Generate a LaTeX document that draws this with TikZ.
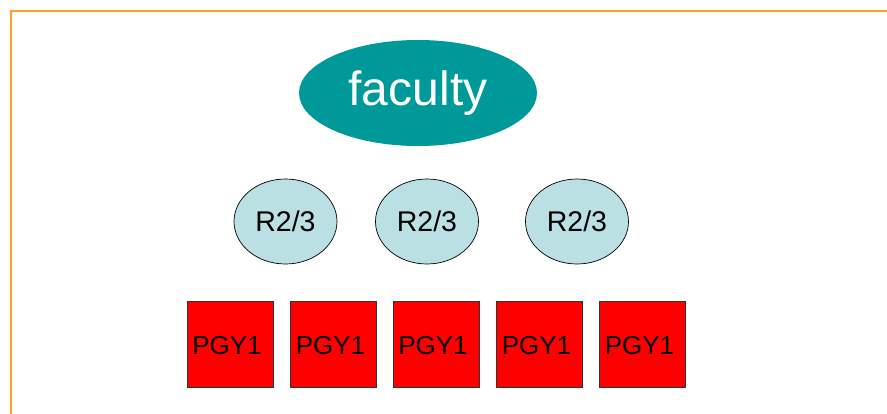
\documentclass[tikz,border=0pt]{standalone}
\usepackage{fontspec}
\setmainfont{Liberation Sans}
\usetikzlibrary{shapes.geometric}
\definecolor{teal0}{HTML}{009999}
\definecolor{lblue}{HTML}{BBE0E3}
\definecolor{frameor}{HTML}{FFA020}
\tikzset{
  fac/.style={ellipse, fill=teal0, text=white, minimum width=238pt, minimum height=106pt, inner sep=0pt, font=\fontsize{48}{52}\selectfont},
  res/.style={ellipse, draw=black, line width=0.7pt, fill=lblue, minimum width=103pt, minimum height=85pt, inner sep=0pt, font=\fontsize{28.5}{32}\selectfont},
  pgy/.style={rectangle, draw=black!80, line width=0.8pt, fill=red, minimum width=86pt, minimum height=86pt, inner sep=0pt},
  pgytext/.style={inner sep=0pt, font=\fontsize{26}{29}\selectfont},
  frameline/.style={draw=frameor, line width=2pt}
}
\begin{document}
\begin{tikzpicture}[x=1pt,y=-1pt]
\useasboundingbox (0,0) rectangle (887,414);
\coordinate (fa) at (11,414);
\coordinate (fb) at (11,11);
\coordinate (fc) at (887,11);
\draw[frameline] (fa) -- (fb) -- (fc);
\node[fac] (faculty) at (418,93) {faculty};
\node[res] (r1) at (285.5,221.5) {R2/3};
\node[res] (r2) at (427,221.5) {R2/3};
\node[res] (r3) at (577,221.5) {R2/3};
\node[pgy] (p1) at (230,344) {};
\node[pgy] (p2) at (333.5,344) {};
\node[pgy] (p3) at (436,344) {};
\node[pgy] (p4) at (539.5,344) {};
\node[pgy] (p5) at (642.5,344) {};
\foreach \i in {1,...,5}{
  \node[pgytext] (t\i) at ([xshift=-3pt,yshift=-1.5pt]p\i.center) {PGY1};
}
\end{tikzpicture}
\end{document}
